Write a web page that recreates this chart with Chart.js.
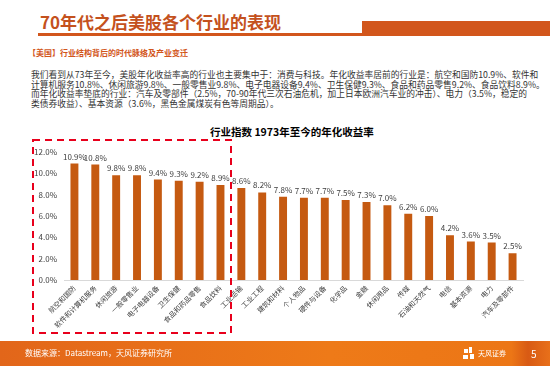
<!DOCTYPE html>
<html>
<head>
<meta charset="utf-8">
<script src="https://cdn.jsdelivr.net/npm/chart.js@4/dist/chart.umd.min.js"></script>
<style>
  body { margin: 0; width: 550px; height: 366px; overflow: hidden; background: #fff; position: relative;
         font-family: "Noto Sans CJK SC", "Noto Sans", sans-serif; }
  .abs { position: absolute; white-space: nowrap; }
  #title { left: 40px; top: 9px; font-size: 17px; font-weight: bold; color: #C4511D; }
  #thin { left: 38px; top: 33px; width: 326px; height: 3px; background: #D2561C; }
  #thick { left: 362px; top: 21px; width: 188px; height: 15px; background: #D2561C; }
  #sub { left: 28px; top: 47px; font-size: 8px; font-weight: bold; color: #D2561C; }
  #para { left: 31px; top: 70px; font-size: 8.75px; line-height: 9.6px; color: #333; }
  #ctitle { left: 210px; top: 124px; font-size: 10.5px; font-weight: bold; color: #000; }
  #wrap { left: 0; top: 140px; width: 550px; height: 195px; }
  #foot { left: 0; top: 341px; width: 550px; height: 25px;
          background: linear-gradient(90deg, #E2661A 0%, #EE7A18 60%, #EC7616 93%, #D85A14 96%, #E8701A 100%); }
  #src { left: 25px; top: 347px; font-size: 8px; color: #fff; }
  #logo { left: 478px; top: 348px; font-size: 7px; color: #fff; }
  #page { left: 531px; top: 346px; font-size: 10px; color: #fff; }
</style>
</head>
<body>
<div class="abs" id="title">70年代之后美股各个行业的表现</div>
<div class="abs" id="thin"></div>
<div class="abs" id="thick"></div>
<div class="abs" id="sub">【美国】行业结构背后的时代脉络及产业变迁</div>
<div class="abs" id="para">我们看到从73年至今，美股年化收益率高的行业也主要集中于：消费与科技。年化收益率居前的行业是：航空和国防10.9%、软件和<br>计算机服务10.8%、休闲旅游9.8%、一般零售业9.8%、电子电器设备9.4%、卫生保健9.3%、食品和药品零售9.2%、食品饮料8.9%。<br>而年化收益率垫底的行业：汽车及零部件（2.5%，70-90年代三次石油危机，加上日本欧洲汽车业的冲击）、电力（3.5%，稳定的<br>类债券收益）、基本资源（3.6%，黑色金属煤炭有色等周期品）。</div>
<div class="abs" id="ctitle">行业指数 1973年至今的年化收益率</div>
<div class="abs" id="wrap"><canvas id="chart" width="550" height="195"></canvas></div>
<svg class="abs" style="left:0;top:0" width="550" height="366">
  <rect x="33" y="140" width="198" height="193" fill="none" stroke="#E8001C" stroke-width="2" stroke-dasharray="7 5"/>
  <g fill="#fff">
    <rect x="464" y="349" width="4" height="4"/><rect x="469" y="347" width="3" height="6"/>
    <rect x="463" y="355" width="5" height="4"/><rect x="470" y="354" width="4" height="5"/>
  </g>
</svg>
<div class="abs" id="foot" style="z-index:-1"></div>
<div class="abs" id="src">数据来源：Datastream，天风证券研究所</div>
<div class="abs" id="logo">天风证券</div>
<div class="abs" id="page">5</div>

<script>
var industries = ['航空和国防', '软件和计算机服务', '休闲旅游', '一般零售业', '电子电器设备', '卫生保健',
    '食品和药品零售', '食品饮料', '工业运输', '工业工程', '建筑和材料', '个人物品', '硬件与设备',
    '化学品', '金融', '休闲用品', '传媒', '石油和天然气', '电信', '基本资源', '电力', '汽车及零部件'];
var annualReturn = [10.9, 10.8, 9.8, 9.8, 9.4, 9.3, 9.2, 8.9, 8.6, 8.2, 7.8, 7.7, 7.7,
    7.5, 7.3, 7.0, 6.2, 6.0, 4.2, 3.6, 3.5, 2.5];
var yTicks = [0, 2, 4, 6, 8, 10, 12];

var font = '"Noto Sans CJK SC", "Noto Sans", sans-serif';

// value labels above each bar
var barLabels = {
    id: 'barLabels',
    afterDatasetsDraw: function (chart) {
        var ctx = chart.ctx;
        var meta = chart.getDatasetMeta(0);
        ctx.save();
        ctx.font = '8px ' + font;
        ctx.fillStyle = '#404040';
        ctx.textAlign = 'center';
        ctx.textBaseline = 'bottom';
        meta.data.forEach(function (bar, i) {
            ctx.fillText(annualReturn[i].toFixed(1) + '%', bar.x, bar.y - 3);
        });
        ctx.restore();
    }
};

new Chart(document.getElementById('chart'), {
    type: 'bar',
    data: {
        labels: industries,
        datasets: [{
            data: annualReturn,
            backgroundColor: '#C55A11',
            categoryPercentage: 1,
            barPercentage: 0.38
        }]
    },
    options: {
        responsive: false,
        animation: false,
        layout: { padding: { top: 10, right: 27, left: 0, bottom: 0 } },
        plugins: { legend: { display: false }, tooltip: { enabled: false } },
        scales: {
            x: {
                grid: { display: false, drawTicks: false },
                border: { display: true, color: '#D9D9D9' },
                ticks: {
                    minRotation: 45, maxRotation: 45, padding: 4,
                    color: '#404040', font: { size: 7, family: font }
                },
                afterFit: function (axis) { axis.height = 55; }
            },
            y: {
                min: 0, max: 12,
                grid: { display: false, drawTicks: false },
                border: { display: false },
                afterBuildTicks: function (axis) {
                    axis.ticks = yTicks.map(function (v) { return { value: v }; });
                },
                ticks: {
                    padding: 7, color: '#404040', font: { size: 8, family: font },
                    callback: function (v) { return v.toFixed(1) + '%'; }
                },
                afterFit: function (axis) { axis.width = 64; }
            }
        }
    },
    plugins: [barLabels]
});
</script>
</body>
</html>
